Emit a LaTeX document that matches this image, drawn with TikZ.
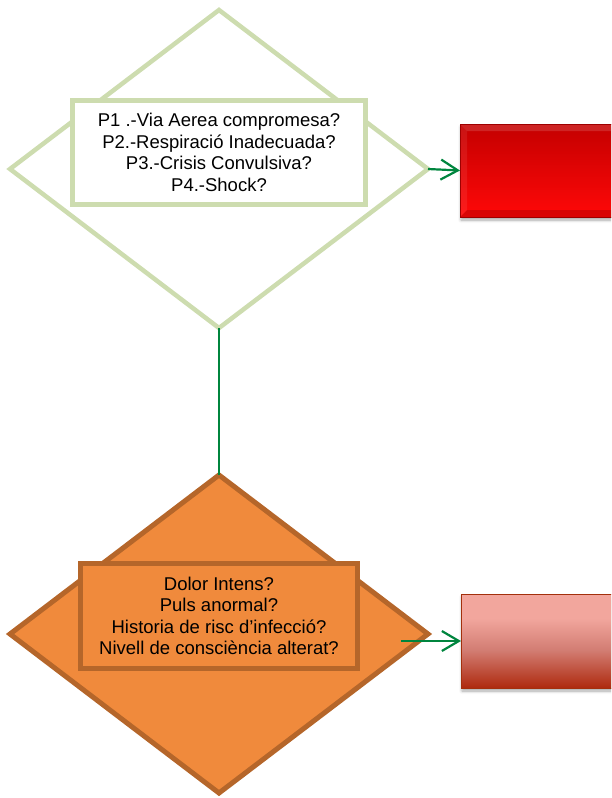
\documentclass[tikz,border=0pt]{standalone}
\usepackage{fontspec}
\setmainfont{Liberation Sans}
\usetikzlibrary{shapes.geometric,arrows.meta,shadows.blur}

\definecolor{sage}{HTML}{CDDCAF}
\definecolor{linkgreen}{HTML}{00853E}
\definecolor{orangefill}{HTML}{F08A3C}
\definecolor{orangeline}{HTML}{B5662A}
\definecolor{redtop}{HTML}{C40000}
\definecolor{redbot}{HTML}{FF0808}
\definecolor{redline}{HTML}{9E0000}
\definecolor{pinktop}{HTML}{F2A69D}
\definecolor{pinkmid}{HTML}{D27C72}
\definecolor{pinkbot}{HTML}{AE2A0E}
\definecolor{pinkline}{HTML}{A3300C}

% light pink at the top, deep brick red at the bottom
\pgfdeclareverticalshading{pinkshade}{100bp}{color(0bp)=(pinkbot); color(25bp)=(pinkbot); color(45bp)=(pinkmid); color(62bp)=(pinktop); color(75bp)=(pinktop); color(100bp)=(pinktop)}

\begin{document}
\begin{tikzpicture}[x=1pt,y=-1pt,
  every node/.style={inner sep=0pt, outer sep=0pt},
  query/.style={diamond, line width=4.5pt, minimum width=418pt, minimum height=318pt},
  qbox/.style={rectangle, line width=5pt, align=center,
    font=\fontsize{18.5}{21.5}\selectfont},
  link/.style={draw=linkgreen, line width=2.2pt},
  linkarrow/.style={link, -{Straight Barb[length=17pt,width=20pt]}},
  softshadow/.style={blur shadow={shadow xshift=1pt, shadow yshift=-3pt,
    shadow blur steps=6, shadow blur radius=3pt, shadow opacity=35}},
  bevel/.style={path picture={
    \fill[white,opacity=.14] (path picture bounding box.north west)
      -- (path picture bounding box.north east)
      -- ([xshift=-7pt,yshift=-7pt]path picture bounding box.north east)
      -- ([xshift=7pt,yshift=-7pt]path picture bounding box.north west) -- cycle;
    \fill[white,opacity=.08] (path picture bounding box.north west)
      -- ([xshift=7pt,yshift=-7pt]path picture bounding box.north west)
      -- ([xshift=7pt,yshift=7pt]path picture bounding box.south west)
      -- (path picture bounding box.south west) -- cycle;
    \fill[black,opacity=.14] (path picture bounding box.south west)
      -- (path picture bounding box.south east)
      -- ([xshift=-7pt,yshift=7pt]path picture bounding box.south east)
      -- ([xshift=7pt,yshift=7pt]path picture bounding box.south west) -- cycle;
  }}
]
\useasboundingbox (0,0) rectangle (611,798);
\clip (0,0) rectangle (611,798);

% first decision: vital signs
\node[query, draw=sage] (d1) at (219,169) {};
\node[qbox, draw=sage, fill=white, minimum width=293pt, minimum height=104pt]
  (q1) at (219,152.5)
  {P1 .-Via Aerea compromesa?\\ P2.-Respiració Inadecuada?\\
   P3.-Crisis Convulsiva?\\ P4.-Shock?};

% red outcome box
\node[rectangle, anchor=west, draw=redline, line width=0.8pt,
  top color=redtop, bottom color=redbot, softshadow, bevel,
  minimum width=200pt, minimum height=93pt] (r1) at (460,170.5) {};

% second decision
\node[query, draw=orangeline, fill=orangefill, line width=5pt] (d2) at (219,634) {};
\node[qbox, draw=orangeline, fill=orangefill, minimum width=277pt, minimum height=105pt]
  (q2) at (219,616)
  {Dolor Intens?\\ Puls anormal?\\ Historia de risc d’infecció?\\
   Nivell de consciència alterat?};

% pink outcome box
\node[rectangle, anchor=west, draw=pinkline, line width=0.8pt,
  shading=pinkshade, softshadow,
  minimum width=200pt, minimum height=94pt] (r2) at (461,641) {};

% connectors
\draw[link, line width=2pt] (d1.south) -- (d2.north);
\draw[linkarrow] (d1.east) -- (r1.west);
\coordinate (a2) at (401,641);
\draw[linkarrow] (a2) -- (r2.west);
\end{tikzpicture}
\end{document}
